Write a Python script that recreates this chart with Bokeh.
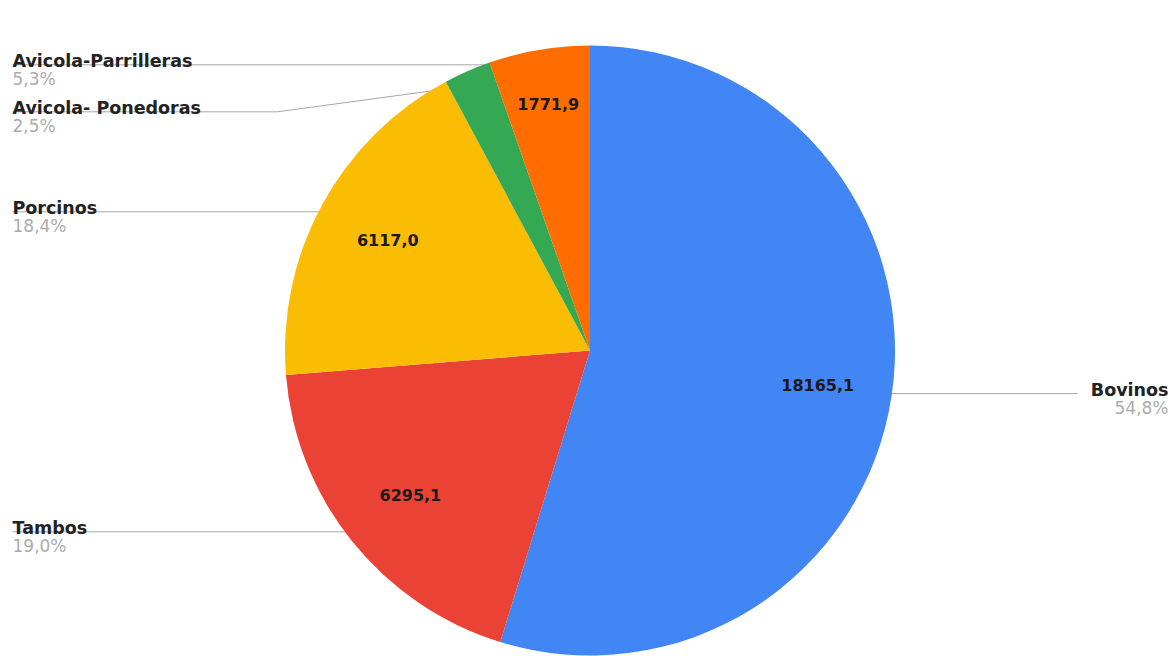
import math
from bokeh.plotting import figure
from bokeh.models import Range1d, ColumnDataSource
from bokeh.core.properties import value
from bokeh.embed import file_html
from bokeh.resources import INLINE

# ---- data ----
categories = ["Bovinos", "Tambos", "Porcinos", "Avicola- Ponedoras", "Avicola-Parrilleras"]
values = [18165.1, 6295.1, 6117.0, 828.0, 1771.9]
colors = ["#4285F4", "#EA4335", "#FBBC04", "#34A853", "#FF6D01"]

# ---- layout ----
W, H = 1173, 656
IMG_H = 656


def Y(img_y):
    return IMG_H - img_y


CX, CY_IMG, R = 589.5, 350.0, 305.0
RA = 0.95 * R      # anchor radius for outer labels
RI = 0.755 * R     # radius for inner value labels
GAP = 47.0
FONT = value("DejaVu Sans")

p = figure(width=W, height=H, x_range=Range1d(0, W), y_range=Range1d(0, H),
           output_backend="svg", toolbar_location=None, min_border=0,
           x_axis_location=None, y_axis_location=None)
p.grid.visible = False
p.outline_line_color = None
p.background_fill_color = "white"
p.border_fill_color = "white"

total = sum(values)
fracs = [v / total for v in values]
starts, ends, mids = [], [], []
c = 0.0
for f in fracs:
    starts.append(c)
    ends.append(c + f)
    mids.append(c + f / 2)
    c += f

# wedge angles (clockwise from 12 o'clock)
sa = [math.pi / 2 - 2 * math.pi * e for e in ends]
ea = [math.pi / 2 - 2 * math.pi * s for s in starts]

# outer label layout
labels = []
for i, m in enumerate(mids):
    dx = math.sin(2 * math.pi * m)
    dy = -math.cos(2 * math.pi * m)
    ax = CX + RA * dx
    ay = CY_IMG + RA * dy
    labels.append(dict(i=i, side="right" if dx > 0 else "left", ax=ax, ay=ay, L=ay))

for side in ("left", "right"):
    grp = sorted([l for l in labels if l["side"] == side], key=lambda l: l["ay"])
    prev = None
    for l in grp:
        if prev is not None and l["L"] < prev + GAP:
            l["L"] = prev + GAP
        prev = l["L"]

line_xs, line_ys = [], []
t_x, t_y, t_txt, t_align = [], [], [], []
pc_x, pc_y, pc_txt, pc_align = [], [], [], []
for l in labels:
    L = l["L"]
    i = l["i"]
    if l["side"] == "left":
        if abs(L - l["ay"]) > 1:
            xs = [12, 277, l["ax"]]
            ys = [Y(L), Y(L), Y(l["ay"])]
        else:
            xs = [12, l["ax"]]
            ys = [Y(L), Y(L)]
        tx, al = 12, "left"
    else:
        xs = [l["ax"], 1077]
        ys = [Y(L), Y(L)]
        tx, al = 1168, "right"
    line_xs.append(xs)
    line_ys.append(ys)
    t_x.append(tx); t_y.append(Y(L - 4)); t_txt.append(categories[i]); t_align.append(al)
    pct = f"{fracs[i] * 100:.1f}".replace(".", ",") + "%"
    pc_x.append(tx); pc_y.append(Y(L + 4)); pc_txt.append(pct); pc_align.append(al)

# leader lines (under the pie)
p.multi_line(xs=line_xs, ys=line_ys, line_color="#a6a6a6", line_width=1)

# pie
src = ColumnDataSource(dict(start=sa, end=ea, color=colors, cat=categories))
p.wedge(x=CX, y=Y(CY_IMG), radius=R, start_angle="start", end_angle="end",
        fill_color="color", line_color=None, source=src)

# outer labels
p.text(x=t_x, y=t_y, text=t_txt, text_align=t_align, text_baseline="alphabetic",
       text_font=FONT, text_font_style="bold", text_font_size=value("17.5px"),
       text_color="#222222")
p.text(x=pc_x, y=pc_y, text=pc_txt, text_align=pc_align, text_baseline="top",
       text_font=FONT, text_font_size=value("17px"), text_color="#ababab")

# inner value labels (narrow slices pushed a little outward, as in the reference)
in_x, in_y, in_t = [], [], []
for i, m in enumerate(mids):
    if fracs[i] < 0.03:
        continue
    rr = RI if fracs[i] > 0.1 else 0.82 * R
    dx = math.sin(2 * math.pi * m)
    dy = -math.cos(2 * math.pi * m)
    in_x.append(CX + rr * dx)
    in_y.append(Y(CY_IMG + rr * dy))
    in_t.append(f"{values[i]:.1f}".replace(".", ","))
p.text(x=in_x, y=in_y, text=in_t, text_align="center", text_baseline="middle",
       text_font=FONT, text_font_style="bold", text_font_size=value("16px"),
       text_color="#1a1a1a")

open("out.html", "w").write(file_html(p, INLINE))
